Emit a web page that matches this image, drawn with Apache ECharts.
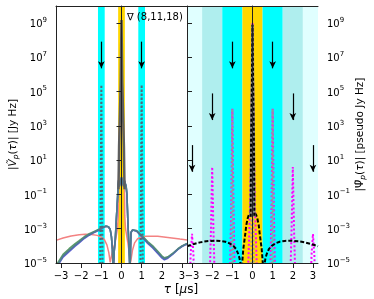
<!DOCTYPE html>
<html><head><meta charset="utf-8">
<script src="https://cdn.jsdelivr.net/npm/echarts@6/dist/echarts.min.js"></script>
<style>html,body{margin:0;padding:0;background:#fff}#c{width:374px;height:299px}</style>
</head><body><div id="c"></div>
<script>
// ---------- data ----------
const xTicks = [-3, -2, -1, 0, 1, 2, 3];
const yTickExponents = [-5, -3, -1, 1, 3, 5, 7, 9];

// left panel: main lobes (green / blue / blended)
const tauLobe = [-3.25, -3.12, -2.9, -2.6, -2.3, -2.1, -1.85, -1.6, -1.35, -1.1, -0.9, -0.77, -0.65, -0.56, -0.5, -0.45, -0.41, -0.36, -0.31, -0.26, -0.22, -0.18, -0.16, -0.14, -0.11, 0, 0.11, 0.14, 0.16, 0.19, 0.23, 0.27, 0.32, 0.37, 0.42, 0.47, 0.55, 0.64, 0.75, 0.9, 1.05, 1.3, 1.55, 1.8, 2.0, 2.13, 2.3, 2.55, 2.8, 3.0, 3.25];
const valTeal = [6e-6, 1e-5, 2.6e-5, 5.5e-5, 1.1e-4, 1.7e-4, 3e-4, 4.6e-4, 6.5e-4, 9e-4, 1.2e-3, 1.4e-3, 1.3e-3, 9e-4, 3.5e-4, 6e-5, 3e-6, 5e-5, 2.2e-4, 3e-3, 1.9e-2, 0.15, 0.4, 0.7, 0.3, 1, 0.3, 0.65, 0.75, 0.6, 0.3, 0.1, 2e-3, 1e-4, 3e-6, 6e-4, 8.5e-4, 9e-4, 7.5e-4, 5e-4, 3.3e-4, 1.6e-4, 8.7e-5, 4.2e-5, 2.3e-5, 1.8e-5, 2.1e-5, 3.5e-5, 6.5e-5, 9.5e-5, 1.35e-4];
const valGreen = [7.5e-6, 1.25e-5, 3.2e-5, 6.8e-5, 1.35e-4, 2e-4, 3.4e-4, 5.1e-4, 7e-4, 9.6e-4, 1.25e-3, 1.42e-3, 1.3e-3, 9e-4, 3.5e-4, 6e-5, 3e-6, 5e-5, 2.2e-4, 3e-3, 1.9e-2, 0.15, 0.4, 0.7, 0.3, 1, 0.3, 0.65, 0.75, 0.6, 0.3, 0.1, 2e-3, 1e-4, 3e-6, 6e-4, 8.5e-4, 9e-4, 7.8e-4, 5.3e-4, 3.6e-4, 1.8e-4, 1e-4, 4.8e-5, 2.6e-5, 2e-5, 2.3e-5, 3.7e-5, 6.8e-5, 9.8e-5, 1.4e-4];
const valBlue = [5e-6, 8.5e-6, 2.2e-5, 4.6e-5, 9.5e-5, 1.5e-4, 2.7e-4, 4.2e-4, 6.1e-4, 8.5e-4, 1.17e-3, 1.38e-3, 1.3e-3, 9e-4, 3.5e-4, 6e-5, 3e-6, 5e-5, 2.2e-4, 3e-3, 1.9e-2, 0.15, 0.4, 0.7, 0.3, 1, 0.3, 0.65, 0.75, 0.6, 0.3, 0.1, 2e-3, 1e-4, 3e-6, 6e-4, 8.5e-4, 9e-4, 7.2e-4, 4.7e-4, 3e-4, 1.4e-4, 7.5e-5, 3.6e-5, 2e-5, 1.55e-5, 1.9e-5, 3.3e-5, 6.2e-5, 9.2e-5, 1.3e-4];

// left panel: red curve
const tauRed = [-3.25, -2.9, -2.5, -2.1, -1.8, -1.5, -1.2, -1.0, -0.85, -0.72, -0.63, -0.56, -0.45, -0.32, -0.2, -0.16, -0.15, -0.12, -0.04, 0, 0.04, 0.12, 0.15, 0.16, 0.2, 0.32, 0.45, 0.55, 0.65, 0.8, 1.0, 1.2, 1.5, 1.8, 2.1, 2.5, 2.9, 3.25];
const valRed = [2.1e-4, 2.9e-4, 3.8e-4, 4.4e-4, 4.7e-4, 4.6e-4, 4.1e-4, 3.3e-4, 2.3e-4, 1.1e-4, 4e-5, 1.1e-5, 5e-5, 1.4e-4, 1e-3, 6e-3, 0.2, 60, 3e5, 1.5e9, 3e5, 60, 0.2, 6e-3, 1e-3, 1.4e-4, 1.1e-5, 6e-5, 1.5e-4, 2.6e-4, 3.3e-4, 3.6e-4, 3.7e-4, 3.6e-4, 3.3e-4, 2.9e-4, 2.5e-4, 2.2e-4];

// left panel: central spike and dotted spikes at +-1
const tauSpikeL = [-0.15, -0.12, -0.04, 0, 0.04, 0.12, 0.15];
const valSpikeL = [0.2, 60, 3e5, 1.5e9, 3e5, 60, 0.2];
const tauDotL = [-1.06, -1.0, -0.94, 0.94, 1.0, 1.06];
const valDotL = [3e-6, 2.5e5, 3e-6, 3e-6, 2.5e5, 3e-6];

// right panel
const tauMag = [-3.13, -3.07, -3.0, -2.93, -2.87, -2.15, -2.06, -2.0, -1.94, -1.85, -1.14, -1.06, -1.0, -0.94, -0.86, -0.26, -0.13, -0.05, 0, 0.05, 0.13, 0.26, 0.86, 0.94, 1.0, 1.06, 1.14, 1.85, 1.94, 2.0, 2.06, 2.15, 2.87, 2.93, 3.0, 3.07, 3.13];
const valMag = [1e-7, 3e-5, 5e-4, 3e-5, 1e-7, 1e-7, 1e-3, 4, 1e-3, 1e-7, 1e-7, 1e-2, 1e4, 1e-2, 1e-7, 1e-7, 1e-2, 1e3, 1e9, 1e3, 1e-2, 1e-7, 1e-7, 1e-2, 1e4, 1e-2, 1e-7, 1e-7, 1e-3, 4, 1e-3, 1e-7, 1e-7, 3e-5, 5e-4, 3e-5, 1e-7];
const tauGrayR = [-1.05, -1.0, -0.95, -0.06, 0, 0.06, 0.95, 1.0, 1.05];
const valGrayR = [1e-7, 1e4, 1e-7, 1e-7, 8e8, 1e-7, 1e-7, 1e4, 1e-7];
const tauBlk = [-3.25, -2.9, -2.6, -2.3, -2.05, -1.8, -1.6, -1.35, -1.14, -0.95, -0.81, -0.7, -0.64, -0.6, -0.555, -0.51, -0.46, -0.4, -0.35, -0.31, -0.24, -0.18, -0.09, 0, 0.09, 0.18, 0.24, 0.31, 0.35, 0.4, 0.46, 0.51, 0.555, 0.6, 0.64, 0.7, 0.81, 0.95, 1.14, 1.35, 1.6, 1.8, 2.05, 2.3, 2.6, 2.9, 3.25];
const valBlk = [9.5e-5, 1.3e-4, 1.6e-4, 1.85e-4, 1.95e-4, 2e-4, 1.95e-4, 1.75e-4, 1.4e-4, 1e-4, 6.5e-5, 3.2e-5, 1.8e-5, 9e-6, 1e-7, 1e-5, 6e-5, 2.1e-4, 6e-4, 1.6e-3, 4e-3, 6.5e-3, 9e-3, 9.5e-3, 9e-3, 6.5e-3, 4e-3, 1.6e-3, 6e-4, 2.1e-4, 6e-5, 1e-5, 1e-7, 9e-6, 1.8e-5, 3.2e-5, 6.5e-5, 1e-4, 1.4e-4, 1.75e-4, 1.95e-4, 2e-4, 1.95e-4, 1.85e-4, 1.6e-4, 1.3e-4, 9.5e-5];
const tauSpkR = [-0.09, -0.07, -0.03, 0, 0.03, 0.07, 0.09];
const valSpkR = [5e-3, 100, 3e5, 8e8, 3e5, 100, 5e-3];

// bands [from, to, colour] and arrows [tau, start, end]
const bandsLeft = [[-1.1667, -0.8333, '#00ffff'], [-0.1667, 0.1667, '#ffd700'], [0.8333, 1.1667, '#00ffff']];
const bandsRight = [[-3.25, -2.5, '#e0ffff'], [-2.5, -1.5, '#afeeee'], [-1.5, -0.5, '#00ffff'], [-0.5, 0.5, '#ffd700'], [0.5, 1.5, '#00ffff'], [1.5, 2.5, '#afeeee'], [2.5, 3.25, '#e0ffff']];
const arrowsLeft = [[-1, 8.3e7, 2.3e6], [1, 8.3e7, 2.3e6]];
const arrowsRight = [[-1, 8.3e7, 2.3e6], [1, 8.3e7, 2.3e6], [-2, 7.9e4, 2.2e3], [2, 7.9e4, 2.2e3], [-3, 76, 2.1], [3, 76, 2.1]];

// ---------- chart ----------
const F = 'DejaVu Sans';
const zip = (t, v) => t.map((x, i) => [x, v[i]]);
const chart = echarts.init(document.getElementById('c'), null, {renderer: 'canvas', width: 374, height: 299});
const lineAx = {show: true, lineStyle: {color: '#222', width: 1}};
const supRich = {
  b: {fontSize: 10, fontFamily: F, lineHeight: 13, verticalAlign: 'bottom', color: '#000'},
  s: {fontSize: 7, fontFamily: F, lineHeight: 6, verticalAlign: 'top', color: '#000'}
};
function supLabel(v) {
  const e = Math.round(Math.log10(v));
  if (yTickExponents.indexOf(e) < 0) return '';
  return '{b|10}{s|' + (e < 0 ? '\u2212' + (-e) : '' + e) + '}';
}
const xFmt = v => (v < 0 ? '\u2212' + (-v) : '' + v);

function xMain(gi) {
  return {type: 'value', gridIndex: gi, min: -3.25, max: 3.25, position: 'bottom', z: 5,
    axisLine: lineAx,
    axisTick: {show: true, length: 5, customValues: xTicks, lineStyle: {color: '#222', width: 1}},
    axisLabel: {customValues: xTicks, formatter: xFmt, margin: 8, fontSize: 10, fontFamily: F, color: '#000'},
    splitLine: {show: false}};
}
function plainAx(gi, pos) {
  return {type: 'value', gridIndex: gi, position: pos, z: 5, axisLine: lineAx,
    axisTick: {show: false}, axisLabel: {show: false}, splitLine: {show: false}};
}
function yLog(gi, pos) {
  return {type: 'log', gridIndex: gi, position: pos, min: 1e-5, max: 1e10, interval: 2, z: 5,
    axisLine: lineAx,
    axisTick: {show: true, length: 5, lineStyle: {color: '#222', width: 1}},
    minorTick: {show: false},
    axisLabel: {formatter: supLabel, rich: supRich, margin: 9},
    splitLine: {show: false}};
}
function ln(xi, yi, data, color, width, type, z) {
  return {type: 'line', xAxisIndex: xi, yAxisIndex: yi, data: data, showSymbol: false, symbol: 'none',
    silent: true, animation: false, clip: true, z: z || 2, color: color,
    itemStyle: {color: color},
    lineStyle: {color: color, width: width, type: type || 'solid', cap: 'butt'}};
}
function bandSeries(xi, yi, bands) {
  return {type: 'line', xAxisIndex: xi, yAxisIndex: yi, data: [[0, 1e-9]], symbol: 'none', silent: true,
    animation: false, z: 1, lineStyle: {width: 0},
    markArea: {silent: true, animation: false, label: {show: false},
      data: bands.map(b => [{xAxis: b[0], itemStyle: {color: b[2], opacity: 1}}, {xAxis: b[1]}])}};
}
function arrowSeries(xi, yi, arrows) {
  return {type: 'line', xAxisIndex: xi, yAxisIndex: yi, data: [[0, 1e-9]], symbol: 'none', silent: true,
    animation: false, z: 4, lineStyle: {width: 0},
    markLine: {silent: true, animation: false, symbol: ['none', 'arrow'], symbolSize: [5, 7],
      label: {show: false}, lineStyle: {color: '#000', width: 1.2, type: 'solid'},
      data: arrows.map(a => [{coord: [a[0], a[1]]}, {coord: [a[0], a[2]]}])}};
}

const option = {
  animation: false,
  textStyle: {fontFamily: F},
  grid: [
    {left: 56, top: 6, width: 131, height: 257, show: false},
    {left: 187, top: 6, width: 131, height: 257, show: false}
  ],
  xAxis: [xMain(0), plainAx(0, 'top'), xMain(1), plainAx(1, 'top')],
  yAxis: [yLog(0, 'left'), plainAx(0, 'right'), plainAx(1, 'left'), yLog(1, 'right')],
  series: [
    bandSeries(0, 0, bandsLeft),
    ln(0, 0, zip(tauRed, valRed), '#f38282', 1.5),
    ln(0, 0, zip(tauLobe, valGreen), '#5c9e66', 1.6),
    ln(0, 0, zip(tauLobe, valBlue), '#5a5ad6', 1.6),
    ln(0, 0, zip(tauLobe, valTeal), '#4f7d8c', 1.6),
    ln(0, 0, zip(tauSpikeL, valSpikeL), '#5e5e5e', 2.5),
    ln(0, 0, zip(tauDotL, valDotL), '#56697a', 2, [2, 2]),
    arrowSeries(0, 0, arrowsLeft),

    bandSeries(2, 3, bandsRight),
    ln(2, 3, zip(tauMag, valMag), '#ff00ff', 2, [2, 2.2]),
    ln(2, 3, zip(tauGrayR, valGrayR), '#999999', 2, [2, 2.2]),
    ln(2, 3, zip(tauBlk, valBlk), '#000000', 2, [4, 2]),
    ln(2, 3, zip(tauSpkR, valSpkR), '#8a8a8a', 2.5),
    ln(2, 3, zip(tauSpkR, valSpkR), '#000000', 2, [3, 2]),
    arrowSeries(2, 3, arrowsRight)
  ],
  graphic: [
    {type: 'text', x: 127, y: 17.5, z: 10, silent: true,
      style: {text: '\u2207 (8,11,18)', fontSize: 10, fontFamily: F, fill: '#000', align: 'left', verticalAlign: 'middle'}},
    {type: 'text', x: 13, y: 134.5, rotation: Math.PI / 2, z: 10, silent: true,
      style: {text: '|{it|\u1E7C}{sb|p}({it|\u03C4})| [Jy Hz]', fontSize: 10.5, fontFamily: F, fill: '#000',
        align: 'center', verticalAlign: 'middle', lineHeight: 14,
        rich: {it: {fontStyle: 'italic', fontSize: 10.5, fontFamily: F, lineHeight: 14},
               sb: {fontStyle: 'italic', fontSize: 7.5, fontFamily: F, lineHeight: 8, verticalAlign: 'bottom'}}}},
    {type: 'text', x: 360, y: 134.5, rotation: Math.PI / 2, z: 10, silent: true,
      style: {text: '|\u03A8\u0303{sb|p}({it|\u03C4})| [pseudo Jy Hz]', fontSize: 10.5, fontFamily: F, fill: '#000',
        align: 'center', verticalAlign: 'middle', lineHeight: 14,
        rich: {it: {fontStyle: 'italic', fontSize: 10.5, fontFamily: F, lineHeight: 14},
               sb: {fontStyle: 'italic', fontSize: 7.5, fontFamily: F, lineHeight: 8, verticalAlign: 'bottom'}}}},
    {type: 'text', x: 181, y: 290, z: 10, silent: true,
      style: {text: '{it|\u03C4} [{it|\u03BC}s]', fontSize: 12, fontFamily: F, fill: '#000', align: 'center', verticalAlign: 'middle',
        rich: {it: {fontStyle: 'italic', fontSize: 12, fontFamily: F}}}}
  ]
};
chart.setOption(option);
</script>
</body></html>
